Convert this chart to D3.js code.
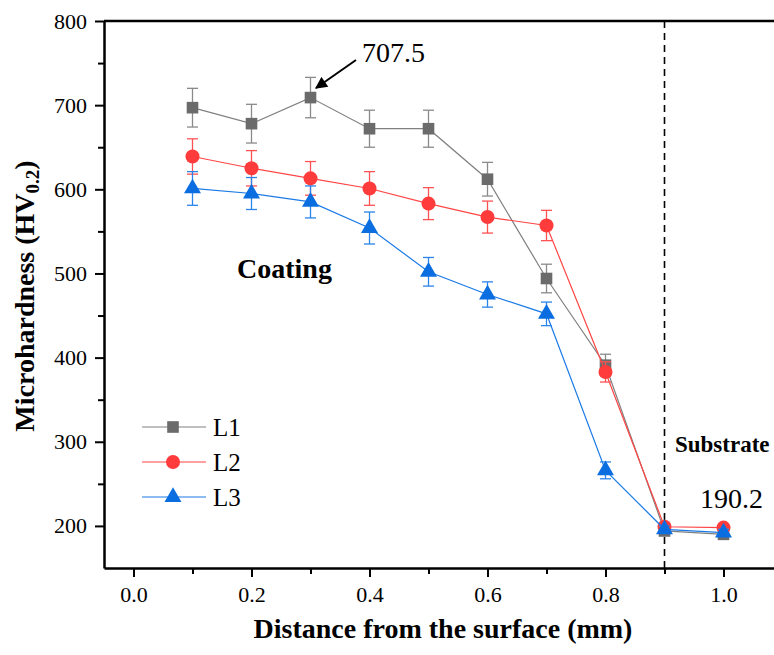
<!DOCTYPE html>
<html>
<head>
<meta charset="utf-8">
<script src="https://cdn.jsdelivr.net/npm/d3@7"></script>
<style>
  body { margin: 0; background: #fff; }
  svg { display: block; }
</style>
</head>
<body>
<svg width="774" height="655"></svg>
<script>
// distances (mm)
var distances = [0.1, 0.2, 0.3, 0.4, 0.5, 0.6, 0.7, 0.8, 0.9, 1.0];

// microhardness values per line
var l1Values = [697, 678, 709, 672, 672, 612, 494, 391, 194, 190];
var l2Values = [639, 625, 613, 601, 583, 567, 557, 383, 199, 198];
var l3Values = [601, 595, 585, 554, 502, 475, 452, 266, 196, 192];

// error bar half-widths
var l1Errors = [23, 23, 24, 22, 22, 20, 17, 13, 5, 4];
var l2Errors = [21, 21, 20, 20, 19, 19, 18, 12, 4, 4];
var l3Errors = [20, 19, 19, 19, 17, 15, 14, 10, 4, 4];

var xTicks = [0.0, 0.2, 0.4, 0.6, 0.8, 1.0];
var yTicks = [200, 300, 400, 500, 600, 700, 800];

var FONT = "Liberation Serif";

var series = [
  {name: "L1", values: l1Values, errors: l1Errors, symbol: d3.symbolSquare, size: 135,
   marker: "#6b6b6b", line: "#808080", bar: "#8a8a8a"},
  {name: "L2", values: l2Values, errors: l2Errors, symbol: d3.symbolCircle, size: 155,
   marker: "#ff3b3b", line: "#ff4545", bar: "#ff5252"},
  {name: "L3", values: l3Values, errors: l3Errors, symbol: d3.symbolTriangle, size: 125,
   marker: "#0a6ee0", line: "#1a7ae6", bar: "#2a84ea"}
];

var svg = d3.select("svg").attr("font-family", FONT);

var x = d3.scaleLinear().domain([-0.05, 1.1]).range([104, 782.5]),
    y = d3.scaleLinear().domain([150, 800]).range([568, 21]);

// frame top line (right side falls outside the window)
svg.append("line")
  .attr("x1", x(-0.05)).attr("x2", x(1.1))
  .attr("y1", y(800)).attr("y2", y(800))
  .attr("stroke", "#000").attr("stroke-width", 2.5);

// minor ticks
svg.append("g")
  .attr("transform", "translate(0," + y(150) + ")")
  .call(d3.axisBottom(x).tickValues([0.1, 0.3, 0.5, 0.7, 0.9]).tickSize(6).tickFormat(""))
  .call(function(g) { g.select(".domain").remove(); g.selectAll("line").attr("stroke", "#000").attr("stroke-width", 2); });

svg.append("g")
  .attr("transform", "translate(" + x(-0.05) + ",0)")
  .call(d3.axisLeft(y).tickValues([250, 350, 450, 550, 650, 750]).tickSize(6).tickFormat(""))
  .call(function(g) { g.select(".domain").remove(); g.selectAll("line").attr("stroke", "#000").attr("stroke-width", 2); });

// major axes
function styleAxis(g) {
  g.attr("font-family", FONT).attr("font-size", 22);
  g.select(".domain").attr("stroke", "#000").attr("stroke-width", 2.5);
  g.selectAll(".tick line").attr("stroke", "#000").attr("stroke-width", 2);
  g.selectAll(".tick text").attr("fill", "#000");
}

svg.append("g")
  .attr("transform", "translate(0," + y(150) + ")")
  .call(d3.axisBottom(x).tickValues(xTicks).tickSize(9).tickSizeOuter(0).tickPadding(9).tickFormat(d3.format(".1f")))
  .call(styleAxis);

svg.append("g")
  .attr("transform", "translate(" + x(-0.05) + ",0)")
  .call(d3.axisLeft(y).tickValues(yTicks).tickSize(9).tickSizeOuter(0).tickPadding(8))
  .call(styleAxis);

// coating / substrate boundary
svg.append("line")
  .attr("x1", x(0.9)).attr("x2", x(0.9))
  .attr("y1", y(800)).attr("y2", y(150))
  .attr("stroke", "#000").attr("stroke-width", 1.6)
  .attr("stroke-dasharray", "7,5");

// series
series.forEach(function(s) {
  var pts = distances.map(function(d, i) { return {x: d, v: s.values[i], e: s.errors[i]}; });
  var g = svg.append("g");

  g.append("path")
    .datum(pts)
    .attr("fill", "none")
    .attr("stroke", s.line)
    .attr("stroke-width", 1.2)
    .attr("d", d3.line().x(function(d) { return x(d.x); }).y(function(d) { return y(d.v); }));

  var eb = g.selectAll(".err").data(pts).enter().append("g")
    .attr("stroke", s.bar).attr("stroke-width", 1.3).attr("fill", "none");
  eb.append("line")
    .attr("x1", function(d) { return x(d.x); }).attr("x2", function(d) { return x(d.x); })
    .attr("y1", function(d) { return y(d.v + d.e); }).attr("y2", function(d) { return y(d.v - d.e); });
  eb.append("line")
    .attr("x1", function(d) { return x(d.x) - 5.5; }).attr("x2", function(d) { return x(d.x) + 5.5; })
    .attr("y1", function(d) { return y(d.v + d.e); }).attr("y2", function(d) { return y(d.v + d.e); });
  eb.append("line")
    .attr("x1", function(d) { return x(d.x) - 5.5; }).attr("x2", function(d) { return x(d.x) + 5.5; })
    .attr("y1", function(d) { return y(d.v - d.e); }).attr("y2", function(d) { return y(d.v - d.e); });

  g.selectAll(".pt").data(pts).enter().append("path")
    .attr("transform", function(d) { return "translate(" + x(d.x) + "," + y(d.v) + ")"; })
    .attr("d", d3.symbol().type(s.symbol).size(s.size))
    .attr("fill", s.marker);
});

// legend
var legend = svg.append("g").attr("transform", "translate(142,427)");
series.forEach(function(s, i) {
  var row = legend.append("g").attr("transform", "translate(0," + (i * 35) + ")");
  row.append("line").attr("x1", 0).attr("x2", 64).attr("stroke", s.line).attr("stroke-width", 1.2);
  row.append("path").attr("transform", "translate(31,0)")
    .attr("d", d3.symbol().type(s.symbol).size(s.size)).attr("fill", s.marker);
  row.append("text").attr("x", 71).attr("y", 9).attr("font-size", 25).text(s.name);
});

// annotations
svg.append("defs").append("marker")
  .attr("id", "arrow").attr("viewBox", "0 0 10 10")
  .attr("refX", 9).attr("refY", 5)
  .attr("markerWidth", 14).attr("markerHeight", 12)
  .attr("markerUnits", "userSpaceOnUse")
  .attr("orient", "auto")
  .append("path").attr("d", "M0,0L10,5L0,10z").attr("fill", "#000");

svg.append("line")
  .attr("x1", 356).attr("y1", 60).attr("x2", 316).attr("y2", 88)
  .attr("stroke", "#000").attr("stroke-width", 2)
  .attr("marker-end", "url(#arrow)");

svg.append("text").attr("x", 362).attr("y", 62).attr("font-size", 28).text("707.5");
svg.append("text").attr("x", 700).attr("y", 508).attr("font-size", 28).text("190.2");
svg.append("text").attr("x", 237).attr("y", 278).attr("font-size", 28)
  .attr("font-weight", "bold").text("Coating");
svg.append("text").attr("x", 675).attr("y", 452).attr("font-size", 23)
  .attr("font-weight", "bold").text("Substrate");

// axis titles
svg.append("text")
  .attr("x", 443).attr("y", 638)
  .attr("text-anchor", "middle").attr("font-size", 28).attr("font-weight", "bold")
  .text("Distance from the surface (mm)");

var yt = svg.append("text")
  .attr("transform", "translate(34,296) rotate(-90)")
  .attr("text-anchor", "middle").attr("font-size", 28).attr("font-weight", "bold");
yt.append("tspan").text("Microhardness (HV");
yt.append("tspan").attr("font-size", 19).attr("dy", 5).text("0.2");
yt.append("tspan").attr("dy", -5).text(")");

svg.selectAll("text").attr("font-family", FONT);
</script>
</body>
</html>
